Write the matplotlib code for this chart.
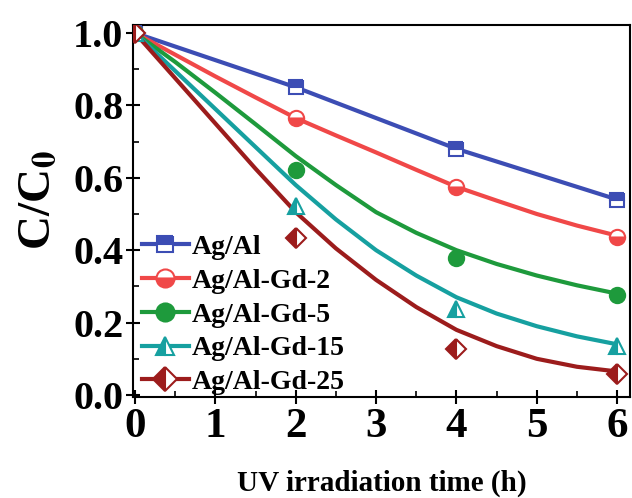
import matplotlib
matplotlib.use("Agg")
import matplotlib.pyplot as plt
from matplotlib.ticker import MultipleLocator

plt.rcParams['font.family'] = ['Liberation Serif', 'DejaVu Serif']
plt.rcParams['font.weight'] = 'bold'
plt.rcParams['mathtext.fontset'] = 'stix'
plt.rcParams['mathtext.default'] = 'bf'

# measured points
t_points = [0, 2, 4, 6]
ag_al = [1.0, 0.85, 0.68, 0.54]
gd2 = [1.0, 0.765, 0.575, 0.437]
gd5 = [1.0, 0.622, 0.378, 0.277]
gd15 = [1.0, 0.522, 0.238, 0.135]
gd25 = [1.0, 0.434, 0.126, 0.058]

# connecting / fitted curves
t_fit = [0, 0.5, 1, 1.5, 2, 2.5, 3, 3.5, 4, 4.5, 5, 5.5, 6]
fit_ag_al = [1.0, 0.9625, 0.925, 0.8875, 0.85, 0.8075, 0.765, 0.7225, 0.68, 0.645, 0.61, 0.575, 0.54]
fit_gd2 = [1.0, 0.94, 0.88, 0.822, 0.765, 0.717, 0.67, 0.622, 0.575, 0.537, 0.50, 0.468, 0.44]
fit_gd5 = [1.0, 0.92, 0.835, 0.748, 0.66, 0.58, 0.505, 0.448, 0.40, 0.362, 0.33, 0.303, 0.28]
fit_gd15 = [1.0, 0.895, 0.79, 0.685, 0.58, 0.485, 0.40, 0.33, 0.27, 0.225, 0.19, 0.162, 0.14]
fit_gd25 = [1.0, 0.875, 0.75, 0.625, 0.505, 0.405, 0.318, 0.243, 0.18, 0.135, 0.10, 0.078, 0.065]

labels = ['Ag/Al', 'Ag/Al-Gd-2', 'Ag/Al-Gd-5', 'Ag/Al-Gd-15', 'Ag/Al-Gd-25']
colors = ['#3c4db4', '#f04848', '#1e9a3c', '#16a0a0', '#9c1c1c']
markers = ['s', 'o', 'o', '^', 'D']
fills = ['top', 'bottom', 'full', 'left', 'left']
msizes = [10, 11, 11, 11, 10]

points = [ag_al, gd2, gd5, gd15, gd25]
fits = [fit_ag_al, fit_gd2, fit_gd5, fit_gd15, fit_gd25]

fig = plt.figure(figsize=(6.32, 4.98), dpi=100)
ax = fig.add_axes([133/632, 101/498, (630-133)/632, (397-25)/498])

handles = []
for pts, ft, c, m, fs, ms, lab in zip(points, fits, colors, markers, fills, msizes, labels):
    ax.plot(t_fit, ft, color=c, lw=3, solid_capstyle='round', solid_joinstyle='round', zorder=2)
    ax.plot(t_points, pts, ls='none', marker=m, ms=ms, color=c, fillstyle=fs,
            markerfacecoloralt='white', markeredgecolor=c, mew=1.5, zorder=3)
    h, = ax.plot([], [], color=c, lw=3, marker=m, ms=ms + 2, fillstyle=fs,
                 markerfacecoloralt='white', markeredgecolor=c, mew=1.5, label=lab)
    handles.append(h)

ax.set_xlim(-0.025, 6.16)
ax.set_ylim(-0.0055, 1.022)
ax.xaxis.set_major_locator(MultipleLocator(1))
ax.xaxis.set_minor_locator(MultipleLocator(0.5))
ax.yaxis.set_major_locator(MultipleLocator(0.2))
ax.yaxis.set_minor_locator(MultipleLocator(0.1))
ax.yaxis.set_major_formatter(matplotlib.ticker.FormatStrFormatter('%.1f'))

ax.tick_params(axis='both', which='major', direction='inout', length=10, width=1.5,
               top=False, right=False)
ax.tick_params(axis='both', which='minor', direction='in', length=4, width=1.2,
               top=False, right=False)
ax.tick_params(axis='y', which='major', labelsize=29, pad=2)
ax.tick_params(axis='x', which='major', labelsize=31, pad=3)
for lbl in ax.get_xticklabels() + ax.get_yticklabels():
    lbl.set_fontweight('bold')
for s in ax.spines.values():
    s.set_linewidth(1.5)

ax.set_xlabel('UV irradiation time (h)', fontsize=21, fontweight='bold', labelpad=17)
ax.set_ylabel('C/C$_0$', fontsize=34, fontweight='bold')
ax.yaxis.set_label_coords(-0.147, 0.53)

leg = ax.legend(handles=handles, loc='lower left', frameon=False,
                prop={'family': 'Liberation Serif', 'weight': 'bold', 'size': 20},
                handlelength=1.7, handletextpad=0.1, labelspacing=0.3,
                borderaxespad=0.0, bbox_to_anchor=(-0.005, -0.025))

fig.savefig('out.png', dpi=100)
